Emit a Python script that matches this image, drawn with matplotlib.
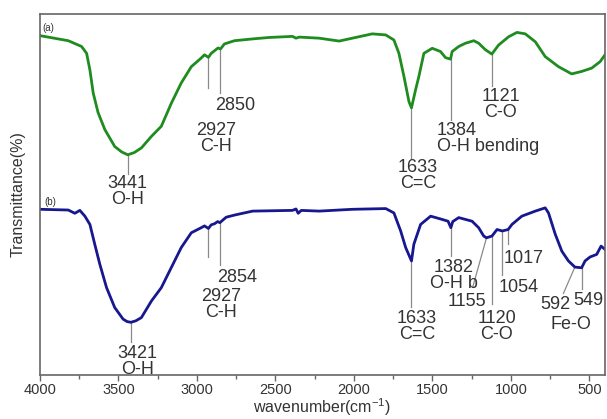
import numpy as np
import matplotlib
matplotlib.use('Agg')
import matplotlib.pyplot as plt

plt.rcParams['font.family'] = ['Liberation Sans', 'DejaVu Sans']
plt.rcParams['mathtext.fontset'] = 'custom'
plt.rcParams['mathtext.rm'] = 'Liberation Sans'
plt.rcParams['mathtext.it'] = 'Liberation Sans:italic'

# spectrum (a) (wavenumber, transmittance in arbitrary %)
wn_a = [4000, 3820, 3735, 3703, 3682, 3661, 3630, 3587, 3524, 3480, 3441, 3400,
        3354, 3290, 3227, 3163, 3100, 3036, 2973, 2952, 2927, 2909, 2877, 2865,
        2850, 2825, 2761, 2645, 2539, 2391, 2369, 2348, 2221, 2094, 2010, 1883,
        1797, 1745, 1713, 1681, 1649, 1633, 1607, 1586, 1554, 1501, 1448, 1416,
        1384, 1374, 1332, 1289, 1236, 1205, 1162, 1121, 1078, 1014, 961, 908, 844,
        781, 696, 612, 548, 485, 431, 400]
tr_a = [94.0, 92.6, 91.0, 89.1, 84.5, 78.1, 72.7, 68.0, 63.3, 61.8, 61.0, 61.6,
        62.9, 66.1, 68.9, 75.3, 80.9, 85.4, 87.8, 88.7, 88.0, 89.1, 90.2, 90.6,
        90.3, 91.7, 92.6, 93.1, 93.5, 93.8, 93.3, 93.6, 93.3, 92.5, 93.3, 94.5,
        94.2, 92.8, 89.1, 82.7, 75.7, 74.0, 79.0, 82.7, 89.1, 90.5, 89.6, 87.9,
        87.5, 89.6, 91.0, 91.9, 92.6, 91.9, 90.1, 88.9, 91.4, 93.7, 94.9, 94.5, 92.3,
        88.2, 85.4, 83.4, 84.1, 85.0, 86.8, 88.7]

# spectrum (b)
wn_b = [4000, 3820, 3778, 3746, 3714, 3682, 3651, 3619, 3576, 3524, 3471, 3445,
        3421, 3390, 3354, 3290, 3227, 3163, 3100, 3036, 2973, 2952, 2927, 2909,
        2888, 2868, 2854, 2814, 2761, 2645, 2391, 2369, 2355, 2335, 2221, 2010,
        1797, 1745, 1702, 1670, 1633, 1618, 1575, 1511, 1438, 1400, 1382, 1370,
        1332, 1247, 1205, 1173, 1155, 1120, 1088, 1054, 1017, 993, 930, 844, 781,
        760, 717, 675, 633, 592, 549, 527, 495, 453, 425, 400]
tr_b = [45.9, 45.7, 44.8, 45.6, 44.0, 41.7, 36.2, 30.7, 24.2, 18.7, 15.5, 14.8,
        14.6, 15.0, 15.9, 20.5, 24.2, 29.8, 35.3, 39.4, 40.8, 41.3, 40.6, 41.6,
        41.9, 42.5, 42.2, 43.7, 44.3, 45.4, 45.6, 46.0, 44.8, 45.6, 45.4, 45.9,
        46.1, 44.9, 39.9, 35.3, 31.6, 36.2, 41.7, 44.0, 43.1, 42.6, 40.8, 42.5,
        43.6, 42.6, 40.8, 38.5, 38.0, 38.5, 40.3, 39.9, 40.3, 41.7, 44.0, 45.4, 46.3,
        44.9, 39.0, 34.3, 31.6, 29.9, 29.7, 31.6, 32.7, 33.4, 35.7, 34.8]

# band labels: (spectrum, peak wavenumber, text)
bands = [
    ('a', 3441, '3441\nO-H'),
    ('a', 2927, '2927\nC-H'),
    ('a', 2850, '2850'),
    ('a', 1633, '1633\nC=C'),
    ('a', 1384, '1384\nO-H bending'),
    ('a', 1121, '1121\nC-O'),
    ('b', 3421, '3421\nO-H'),
    ('b', 2927, '2927\nC-H'),
    ('b', 2854, '2854'),
    ('b', 1633, '1633\nC=C'),
    ('b', 1382, '1382\nO-H b'),
    ('b', 1155, '1155'),
    ('b', 1120, '1120\nC-O'),
    ('b', 1054, '1054'),
    ('b', 1017, '1017'),
    ('b', 592, '592'),
    ('b', 549, '549'),
]

# layout of each label: text (x, top y, halign), end of the leader line (x, y)
label_pos = [
    (3441, 55.5, 'center', 3441, 55.8),
    (2876, 70.2, 'center', 2927, 79.6),
    (2755, 77.1, 'center', 2850, 78.2),
    (1592, 59.9, 'center', 1633, 60.2),
    (1471, 70.2, 'left', 1384, 70.6),
    (1065, 79.6, 'center', 1121, 80.1),
    (3377, 8.3, 'center', 3421, 9.1),
    (2844, 24.0, 'center', 2927, 32.6),
    (2742, 29.3, 'center', 2854, 30.4),
    (1598, 18.0, 'center', 1633, 18.8),
    (1363, 32.0, 'center', 1382, 33.1),
    (1281, 22.7, 'center', 1243, 24.3),
    (1090, 18.0, 'center', 1120, 19.6),
    (951, 26.5, 'center', 1054, 27.6),
    (919, 34.5, 'center', 1017, 36.2),
    (716, 21.8, 'center', 665, 22.6),
    (506, 22.9, 'center', 549, 23.8),
]

fig = plt.figure(figsize=(6.07, 4.19), dpi=100)
ax = fig.add_axes([0.0659, 0.1050, 0.9308, 0.8616])

ax.plot(wn_a, tr_a, color='#1f8c1f', lw=2.0, solid_joinstyle='round')
ax.plot(wn_b, tr_b, color='#17178f', lw=2.0, solid_joinstyle='round')

curves = {'a': (wn_a, tr_a), 'b': (wn_b, tr_b)}
for (spec, peak, txt), (tx, ty, ha, lx, ly) in zip(bands, label_pos):
    w, t = curves[spec]
    t_peak = np.interp(peak, w[::-1], t[::-1])
    ax.plot([peak, lx], [t_peak, ly], color='#8a8a8a', lw=0.9, zorder=1)
    ax.text(tx, ty, txt, ha=ha, va='top', multialignment='center' if ha == 'center' else 'left',
            fontsize=13, color='#333333', linespacing=0.92)

ax.text(614, 13.9, 'Fe-O', ha='center', va='center', fontsize=13, color='#333333')
ax.text(3982, 96.1, '(a)', ha='left', va='center', fontsize=7, color='#333333')
ax.text(3975, 47.8, '(b)', ha='left', va='center', fontsize=7, color='#333333')

ax.set_xlim(4000, 400)
ax.set_ylim(0, 100)
ax.set_xticks([4000, 3500, 3000, 2500, 2000, 1500, 1000, 500])
ax.set_xticks(np.arange(3750, 400, -500), minor=True)
ax.set_yticks([])
ax.tick_params(axis='x', which='major', length=4, width=1, color='#666666',
               labelsize=10.5, labelcolor='#333333', pad=2)
ax.tick_params(axis='x', which='minor', length=3, width=1, color='#666666')
for s in ax.spines.values():
    s.set_color('#666666')
    s.set_linewidth(1.2)

ax.set_xlabel('wavenumber(cm$^{-1}$)', fontsize=11.5, color='#333333', labelpad=-1)
ax.set_ylabel('Transmittance(%)', fontsize=11.5, color='#333333', labelpad=10)

fig.savefig('out.png', dpi=100)
